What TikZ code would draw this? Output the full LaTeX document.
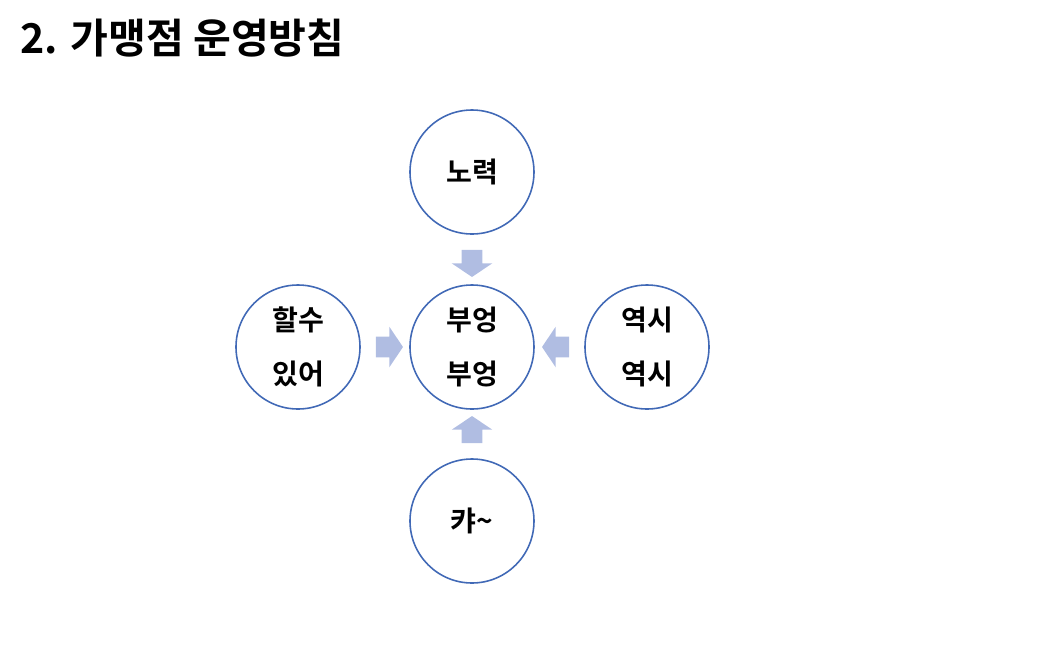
\documentclass[tikz,border=0pt]{standalone}
\usepackage{fontspec}
\newfontfamily\kor{Noto Sans CJK KR Bold}
\usetikzlibrary{shapes.arrows}
\definecolor{ringblue}{HTML}{4169B6}
\definecolor{arrowblue}{HTML}{B0BDE2}
\begin{document}
\begin{tikzpicture}[
  ring/.style={draw=ringblue,line width=0.9pt,circle,minimum size=2.48cm,inner sep=0pt,
    align=center,font=\kor\fontsize{16}{31}\selectfont},
  blockarrow/.style={single arrow,fill=arrowblue,draw=none,inner xsep=0pt,inner ysep=0.2cm,
    minimum height=0.54cm,single arrow head extend=0.2cm,
    single arrow tip angle=112}]
\useasboundingbox (0,0) rectangle (21,-12.98);
\node[anchor=west,inner sep=0pt,font=\kor\fontsize{23.4}{28}\selectfont] (title) at (0.4,-0.76){2. 가맹점 운영방침};
\node[ring] (top) at (9.44,-3.44){노력};
\node[ring] (mid) at (9.44,-6.94){부엉\\부엉};
\node[ring] (left) at (5.96,-6.94){할수\\있어};
\node[ring] (right) at (12.94,-6.94){역시\\역시};
\node[ring] (bot) at (9.44,-10.42){캬\textasciitilde};
\node[blockarrow,rotate=-90] (topar) at (9.44,-5.2){};
\node[blockarrow] (leftar) at (7.72,-6.94){};
\node[blockarrow,rotate=180] (rightar) at (11.18,-6.94){};
\node[blockarrow,rotate=90] (botar) at (9.44,-8.66){};
\end{tikzpicture}
\end{document}
